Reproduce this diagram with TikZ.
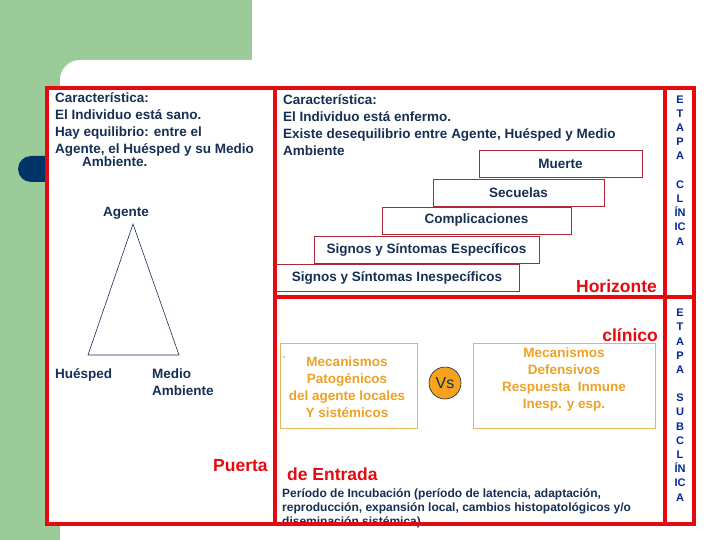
\documentclass[tikz,border=0pt]{standalone}
\usepackage{fontspec}
\setmainfont{Liberation Sans}
\usepackage{tikz}
\definecolor{navy}{RGB}{22,48,84}
\definecolor{framered}{RGB}{228,10,16}
\definecolor{boxred}{RGB}{175,40,55}
\definecolor{mecorange}{RGB}{236,162,40}
\definecolor{mecborder}{RGB}{232,180,90}
\definecolor{vsfill}{RGB}{246,162,28}
\definecolor{etapablue}{RGB}{0,40,150}
\definecolor{bggreen}{RGB}{156,203,154}
\definecolor{pillnavy}{RGB}{0,52,102}

\begin{document}
\begin{tikzpicture}[x=1pt,y=-1pt]
  \tikzstyle{every node}=[inner sep=0pt]
  \tikzstyle{txt}=[font=\fontsize{13.5}{17}\selectfont\bfseries, text=navy, align=left]
  \tikzstyle{stage}=[draw=boxred, line width=0.8pt, fill=white, minimum height=27pt, font=\fontsize{13.5}{17}\selectfont\bfseries, text=navy]
  \tikzstyle{mecbox}=[draw=mecborder, line width=0.8pt, minimum height=85pt]
  \tikzstyle{mectext}=[font=\fontsize{13.5}{17}\selectfont\bfseries, text=mecorange, align=center]
  \tikzstyle{big}=[font=\fontsize{17.5}{20}\selectfont\bfseries, text=framered]
  \tikzstyle{etapa}=[font=\fontsize{11}{14.2}\selectfont\bfseries, text=etapablue, align=center]
  \tikzstyle{wall}=[draw=framered, line width=3.5pt]
  \useasboundingbox (0,0) rectangle (720,540);
  % background
  \fill[bggreen] (0,0) rectangle (252,540);
  \fill[white] (60,540) -- (60,80) arc[start angle=180, end angle=270, radius=20] -- (720,60) -- (720,540) -- cycle;
  \fill[pillnavy] (47,156) -- (31,156) arc[start angle=270, end angle=90, radius=13] -- (47,182) -- cycle;
  \fill[white] (47,88) rectangle (694,524);
  % sano / enfermo
  \node[txt, anchor=base west] (L_1) at (55,167) {Característica:\\ El Individuo está sano.\\ Hay equilibrio: entre el\\ Agente, el Huésped y su Medio\\[-4pt] \hspace*{27pt}Ambiente.};
  \node[txt, anchor=base west] (R_1) at (283,156) {Característica:\\ El Individuo está enfermo.\\ Existe desequilibrio entre Agente, Huésped y Medio\\ Ambiente};
  % horizonte clinico
  \node[stage, minimum width=163pt] (S_5) at (560.5,163.5) {Muerte};
  \node[stage, minimum width=171pt] (S_4) at (518.5,192.5) {Secuelas};
  \node[stage, minimum width=189pt] (S_3) at (476.5,220.5) {Complicaciones};
  \node[stage, minimum width=225pt] (S_2) at (426.5,249.5) {Signos y Síntomas Específicos};
  \node[stage, minimum width=244pt] (S_1) at (397,277.5) {Signos y Síntomas Inespecíficos};
  % triada
  \node[txt, anchor=base west] (T_1) at (103,217) {Agente};
  \node[txt, anchor=base west] (T_2) at (55,378) {Huésped};
  \node[txt, anchor=base west] (T_3) at (152,395) {Medio\\ Ambiente};
  \coordinate (T_a) at (133,224);
  \coordinate (T_h) at (88,355);
  \coordinate (T_m) at (179,355);
  \draw[navy, line width=0.6pt] (T_a) -- (T_h) -- (T_m) -- cycle;
  % mecanismos
  \node[mecbox, minimum width=137pt] (M_1) at (348.5,385.5) {};
  \node[mectext] (M_1t) at (347,387) {Mecanismos\\ Patogénicos\\ del agente locales\\ Y sistémicos};
  \node[circle, fill=navy!60, minimum size=1.5pt] (M_pt) at (284,357) {};
  \node[circle, draw=navy!80!black, line width=0.6pt, fill=vsfill, minimum size=32pt, font=\fontsize{16}{18}\selectfont, text=navy] (V_s) at (445,383) {Vs};
  \node[mecbox, minimum width=182pt] (M_2) at (564,385.5) {};
  \node[mectext] (M_2t) at (564,380) {Mecanismos\\ Defensivos\\ Respuesta~~Inmune\\ Inesp. y esp.};
  % etiquetas rojas
  \node[big, anchor=base east] (H_1) at (657,292) {Horizonte};
  \node[big, anchor=base east] (H_2) at (658,341) {clínico};
  \node[big, anchor=base west] (P_1) at (213,471) {Puerta};
  \node[big, anchor=base west] (P_2) at (287,480) {de Entrada};
  \node[font=\fontsize{12}{14}\selectfont\bfseries, text=navy, align=left, anchor=base west] (P_3) at (282,525) {Período de Incubación (período de latencia, adaptación,\\ reproducción, expansión local, cambios histopatológicos y/o\\ diseminación sistémica)};
  % etapas
  \node[etapa, anchor=base] (E_1) at (680,245) {E\\ T\\ A\\ P\\ A\\[14.2pt] C\\ L\\ ÍN\\ IC\\ A};
  \node[etapa, anchor=base] (E_2) at (680,501) {E\\ T\\ A\\ P\\ A\\[14pt] S\\ U\\ B\\ C\\ L\\ ÍN\\ IC\\ A};
  % marco
  \draw[wall] (47,88) rectangle (275,524);
  \draw[wall] (275,88) rectangle (665,297);
  \draw[wall] (275,297) rectangle (665,524);
  \draw[wall] (665,88) rectangle (694,297);
  \draw[wall] (665,297) rectangle (694,524);
\end{tikzpicture}
\end{document}
